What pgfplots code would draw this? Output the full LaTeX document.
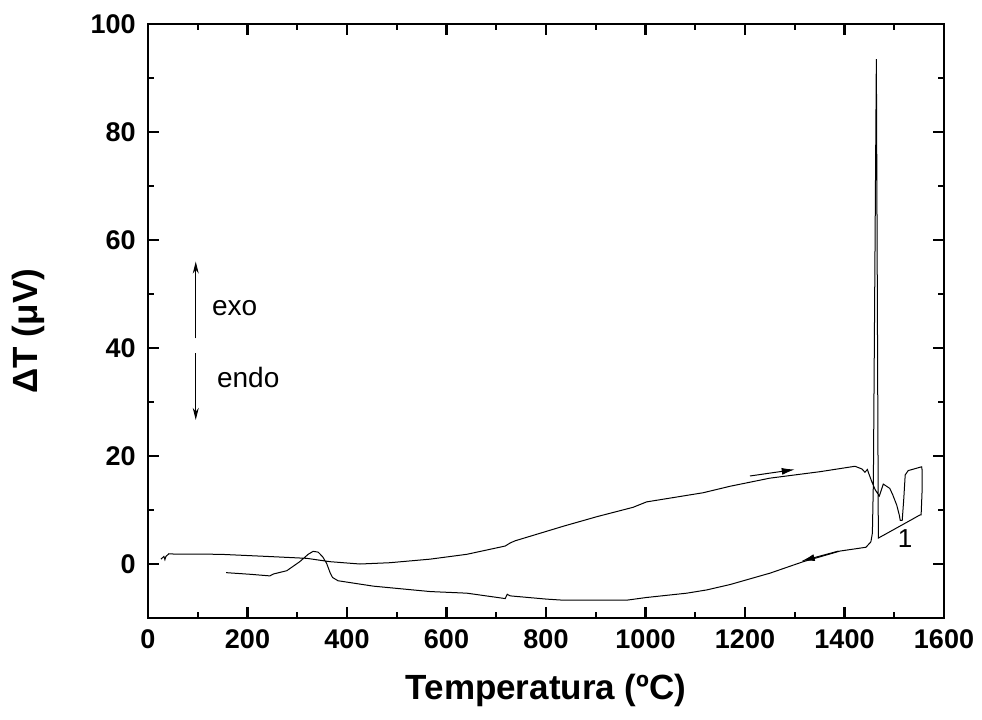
\documentclass[border=0pt]{standalone}
\usepackage{fontspec}
\setmainfont{Liberation Sans}
\usepackage{pgfplots}
\pgfplotsset{compat=1.18}
\usetikzlibrary{calc,arrows.meta}

\begin{document}
\begin{tikzpicture}
\begin{axis}[
  scale only axis, width=398pt, height=297pt,
  xmin=0, xmax=1600, ymin=-10, ymax=100,
  xtick={0,200,...,1600}, ytick={0,20,...,100},
  minor x tick num=1, minor y tick num=1,
  tick align=inside,
  major tick length=5.5pt, minor tick length=3pt,
  axis line style={line width=1.4pt},
  every tick/.style={black, line width=1.2pt},
  tick label style={font=\fontsize{13.5}{16}\selectfont\bfseries},
  /pgf/number format/assume math mode=true,
  /pgf/number format/1000 sep={},
  scaled ticks=false,
  xticklabel style={anchor=base, inner sep=0pt, yshift=-15pt},
  yticklabel style={anchor=east, inner sep=0pt, xshift=-6pt},
  xlabel={Temperatura (ºC)},
  ylabel={ΔT (μV)},
  xlabel style={font=\fontsize{17.5}{21}\selectfont\bfseries,
    at={(axis description cs:0.5,-0.138)}, anchor=base},
  ylabel style={font=\fontsize{17.5}{21}\selectfont\bfseries,
    at={(axis description cs:-0.1508,0.483)}, anchor=center},
]
\coordinate (sw) at (rel axis cs:0,0);
\coordinate (ne) at (rel axis cs:1,1);

% heating, then cooling (one continuous run)
\addplot[black, line width=0.5pt] coordinates {
  (26,0.9) (32,1.4) (34,0.8) (36,1.4) (42,1.9) (51,1.85)
  (145,1.8) (252,1.35) (319,1.05) (366,0.43) (426,0) (486,0.24)
  (567,0.9) (641,1.8) (718,3.33) (728,3.9) (738,4.3) (835,7.0)
  (902,8.76) (975,10.5) (1002,11.5) (1116,13.2) (1170,14.4)
  (1250,15.9) (1351,17.1) (1421,18.1) (1435,17.6) (1441,17.0)
  (1446,17.5) (1449,16.7) (1455,15.2) (1462,13.7) (1470,12.6)
  (1478,14.8) (1491,14.0) (1497,12.8) (1505,10.9) (1510,9.1)
  (1512,8.1) (1516,8.1) (1519,11.9) (1522,16.5) (1528,17.3)
  (1555,18.0) (1556,17.4) (1556,13.7) (1554,9.1)
  (1552,9.1) (1515,7.2) (1468,4.8)
  (1464,93.5)
  (1458,15) (1456,5.7) (1453,4.1) (1443,3.1) (1391,2.4)
  (1317,0.43) (1250,-1.7) (1170,-3.8) (1123,-4.8) (1083,-5.4)
  (1002,-6.2) (962,-6.7) (835,-6.7) (801,-6.5) (728,-5.9)
  (722,-5.6) (718,-6.4) (641,-5.4) (567,-5.1) (453,-4.1)
  (382,-3.1) (371,-2.5) (366,-1.6) (359,0.13) (351,1.35)
  (342,2.2) (332,2.35) (322,1.8) (305,0.43) (279,-1.24)
  (252,-1.85) (245,-2.2) (205,-1.9) (157,-1.6)
};

% direction arrows on the curve
\draw[line width=0.5pt, -{Latex[length=6.5pt,width=3.5pt]}]
  (axis cs:1210,16.3) -- (axis cs:1300,17.5);
\draw[line width=0.5pt, -{Latex[length=6.5pt,width=3.5pt]}]
  (axis cs:1388,2.4) -- (axis cs:1314,0.56);

% exo / endo
\draw[line width=0.5pt, -{Stealth[length=6pt,width=3pt]}]
  (axis cs:96,41.8) -- (axis cs:96,56);
\draw[line width=0.5pt, -{Stealth[length=6pt,width=3pt]}]
  (axis cs:96,39) -- (axis cs:96,26.7);
\node[anchor=base west, inner sep=0pt, font=\fontsize{14}{16}\selectfont]
  at (axis cs:128,46.1) {exo};
\node[anchor=base west, inner sep=0pt, font=\fontsize{14}{16}\selectfont]
  at (axis cs:138,32.7) {endo};
\node[inner sep=0pt, font=\fontsize{13}{15}\selectfont]
  at (axis cs:1522,4.8) {1};
\end{axis}
\pgfresetboundingbox
\path[use as bounding box] ($(sw)+(-74pt,-50.5pt)$) rectangle ($(ne)+(19pt,12pt)$);
\end{tikzpicture}
\end{document}
